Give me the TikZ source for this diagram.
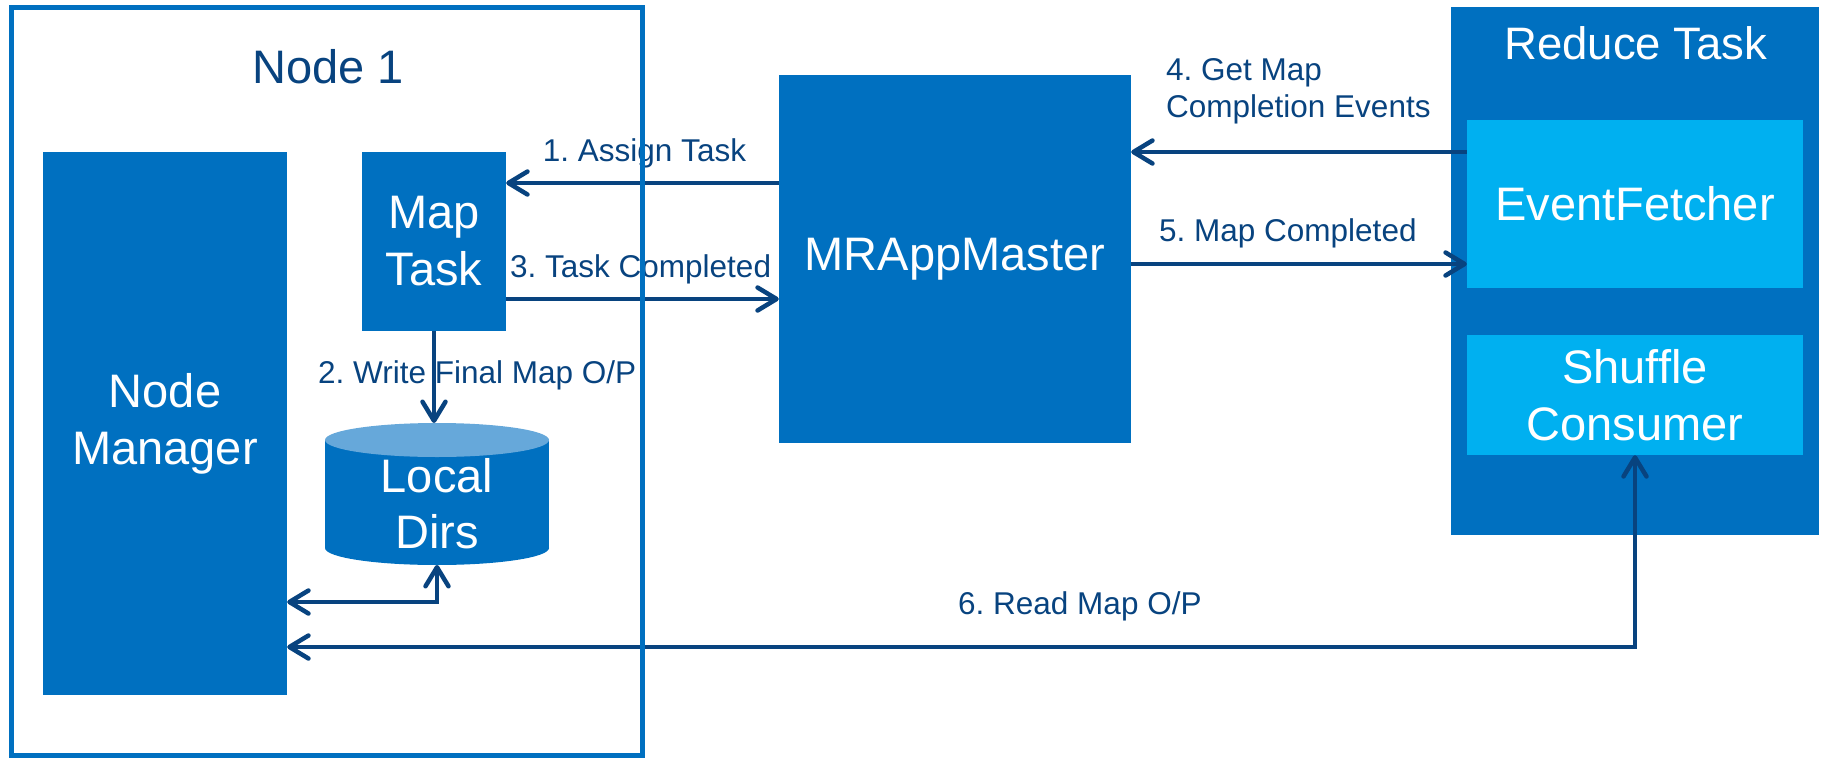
\documentclass[tikz,border=0pt]{standalone}
\usepackage{fontspec}
\setmainfont{Liberation Sans}
\usetikzlibrary{arrows.meta}
\definecolor{boxblue}{HTML}{0070C0}
\definecolor{paleblue}{HTML}{00B0F0}
\definecolor{cyltop}{HTML}{66A8DA}
\definecolor{navy}{HTML}{08437F}
\frenchspacing

\begin{document}
\begin{tikzpicture}[x=1pt,y=-1pt,
  box/.style={fill=boxblue, text=white, inner sep=0pt, align=center,
    font=\fontsize{47}{57}\selectfont},
  subbox/.style={box, fill=paleblue},
  lbl/.style={text=navy, inner sep=0pt, font=\fontsize{31.5}{37}\selectfont},
  arr/.style={draw=navy, line width=4.5pt,
    -{Straight Barb[length=19pt,width=23pt,round]}},
  arrboth/.style={draw=navy, line width=4.5pt,
    {Straight Barb[length=19pt,width=23pt,round]}-{Straight Barb[length=19pt,width=23pt,round]}}]

\useasboundingbox (0,0) rectangle (1824,758);

% Node 1 contents
\node[anchor=base, text=navy, inner sep=0pt, font=\fontsize{47}{56}\selectfont]
  (n1title) at (328,83) {Node 1};
\node[box, minimum width=244pt, minimum height=543pt] (nm) at (165,423.5) {Node\\Manager};
\node[box, minimum width=144pt, minimum height=179pt] (mt) at (434,241.5) {Map\\Task};

% Local Dirs cylinder
\fill[boxblue] (325,440) rectangle (549,548);
\fill[boxblue] (437,548) ellipse [x radius=112, y radius=17];
\fill[cyltop] (437,440) ellipse [x radius=112, y radius=17];
\coordinate (ldtop) at (437,423);
\coordinate (ldbot) at (437,565);
\node[text=white, inner sep=0pt, align=center, font=\fontsize{47}{56}\selectfont]
  (ld) at (437,504) {Local\\Dirs};

% MRAppMaster
\node[box, minimum width=352pt, minimum height=368pt] (mr) at (955,259) {MRAppMaster};

% Reduce Task
\node[fill=boxblue, inner sep=0pt, minimum width=368pt, minimum height=528pt] (rt) at (1635,271) {};
\node[anchor=base, text=white, inner sep=0pt, font=\fontsize{45.5}{54}\selectfont]
  (rttitle) at (1636,59) {Reduce Task};
\node[subbox, minimum width=336pt, minimum height=168pt] (ef) at (1635,204) {EventFetcher};
\node[subbox, minimum width=336pt, minimum height=120pt] (sc) at (1635,395) {Shuffle\\Consumer};

% labels
\node[lbl, anchor=base] (l1) at (644.5,161) {1. Assign Task};
\node[lbl, anchor=base west] (l2) at (318,383) {2. Write Final Map O/P};
\node[lbl, anchor=base west] (l3) at (510,277) {3. Task Completed};
\node[lbl, anchor=north west, align=left] (l4) at (1166,58) {4. Get Map\\Completion Events};
\node[lbl, anchor=base west] (l5) at (1159,241) {5. Map Completed};
\node[lbl, anchor=base west] (l6) at (958,614) {6. Read Map O/P};

% connectors
\draw[arr] (mr.west |- 0,183) -- (mt.east |- 0,183);
\draw[arr] (mt.south) -- (mt.south |- ldtop);
\draw[arr] (mt.east |- 0,299) -- (mr.west |- 0,299);
\draw[arr] (ef.west |- 0,152) -- (mr.east |- 0,152);
\draw[arr] (mr.east |- 0,264) -- (ef.west |- 0,264);
\draw[arrboth] (ldbot) |- (nm.east |- 0,602);
\draw[arrboth] (nm.east |- 0,647) -| (sc.south);

% Node 1 frame
\node[draw=boxblue, line width=5pt, inner sep=0pt, minimum width=631pt, minimum height=748pt]
  (n1) at (326.5,381) {};
\end{tikzpicture}
\end{document}
